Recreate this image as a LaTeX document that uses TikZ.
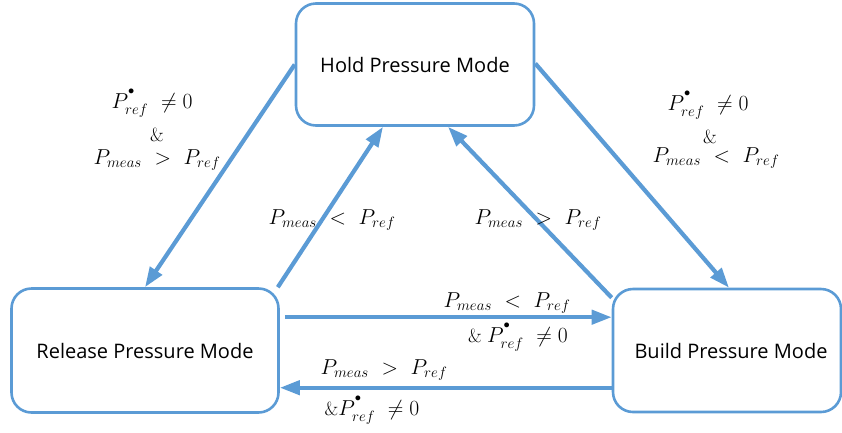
\documentclass[tikz,border=0pt]{standalone}
\usepackage{graphicx}
\usepackage{fontspec}
\newfontfamily\modefont{Open Sans}
\usetikzlibrary{arrows.meta}
\definecolor{flow}{HTML}{5B9BD5}
% reference pressure derivative, dot set high over the symbol
\newcommand\prefdot{P^{\raisebox{5pt}{$\scriptscriptstyle\bullet$}}_{ref}}
% switching condition, math enlarged beyond the fixed math sizes
\newcommand\cnd[1]{\scalebox{1.25}{$#1$}}
\newcommand\ampsign{{\fontsize{19}{22}\selectfont\&}}
\begin{document}
\begin{tikzpicture}[x=1pt,y=-1pt,
  mode/.style={draw=flow, line width=2.6pt, rounded corners=20pt,
    inner sep=0pt, font=\modefont\fontsize{20}{24}\selectfont},
  trans/.style={draw=flow, line width=4.2pt,
    -{Triangle[length=20pt,width=14pt]}},
  cond/.style={inner sep=0pt, font=\fontsize{17.28}{21}\selectfont},
  amp/.style={inner sep=0pt}]
\useasboundingbox (0,0) rectangle (842,432);

% operating modes
\node[mode, minimum width=238pt, minimum height=122pt] (hold) at (415,64.5) {Hold Pressure Mode};
\node[mode, minimum width=267pt, minimum height=124pt] (release) at (145,350.5) {Release Pressure Mode};
\node[mode, minimum width=228pt, minimum height=123pt] (build) at (727,350.5) {\hspace*{8pt}Build Pressure Mode};

% transitions between modes
\draw[trans] (hold.west) -- (release.north);
\draw[trans] ([xshift=-2pt]release.north east) -- ([xshift=-32pt]hold.south);
\draw[trans] ([yshift=-10pt]build.north west) -- ([xshift=33pt]hold.south);
\draw[trans] ([yshift=1pt]hold.east) -- ([xshift=2pt]build.north);
\coordinate (r1) at ([shift={(5,30)}]release.north east);
\draw[trans] (r1) -- (r1 -| build.west);
\coordinate (b1) at ([yshift=-100pt]build.north west);
\draw[trans] (b1) -- (b1 -| release.east);

% switching conditions
\node[cond] (c1a) at (152,103) {\cnd{\prefdot\ \neq 0}};
\node[amp]  (c1b) at (157,135) {\ampsign};
\node[cond] (c1c) at (157,160) {\cnd{P_{meas}\ >\ P_{ref}}};

\node[cond] (c2a) at (708,105) {\cnd{\prefdot\ \neq 0}};
\node[amp]  (c2b) at (710,137) {\ampsign};
\node[cond] (c2c) at (716,158) {\cnd{P_{meas}\ <\ P_{ref}}};

\node[cond] (c3) at (332,220) {\cnd{P_{meas}\ <\ P_{ref}}};
\node[cond] (c4) at (538,220) {\cnd{P_{meas}\ >\ P_{ref}}};

\node[cond] (c5a) at (507,303) {\cnd{P_{meas}\ <\ P_{ref}}};
\node[cond] (c5b) at (518,337) {\ampsign\ \cnd{\prefdot\ \neq 0}};
\node[cond] (c6a) at (384,370) {\cnd{P_{meas}\ >\ P_{ref}}};
\node[cond] (c6b) at (372,410) {\ampsign\cnd{\prefdot\ \neq 0}};
\end{tikzpicture}
\end{document}
